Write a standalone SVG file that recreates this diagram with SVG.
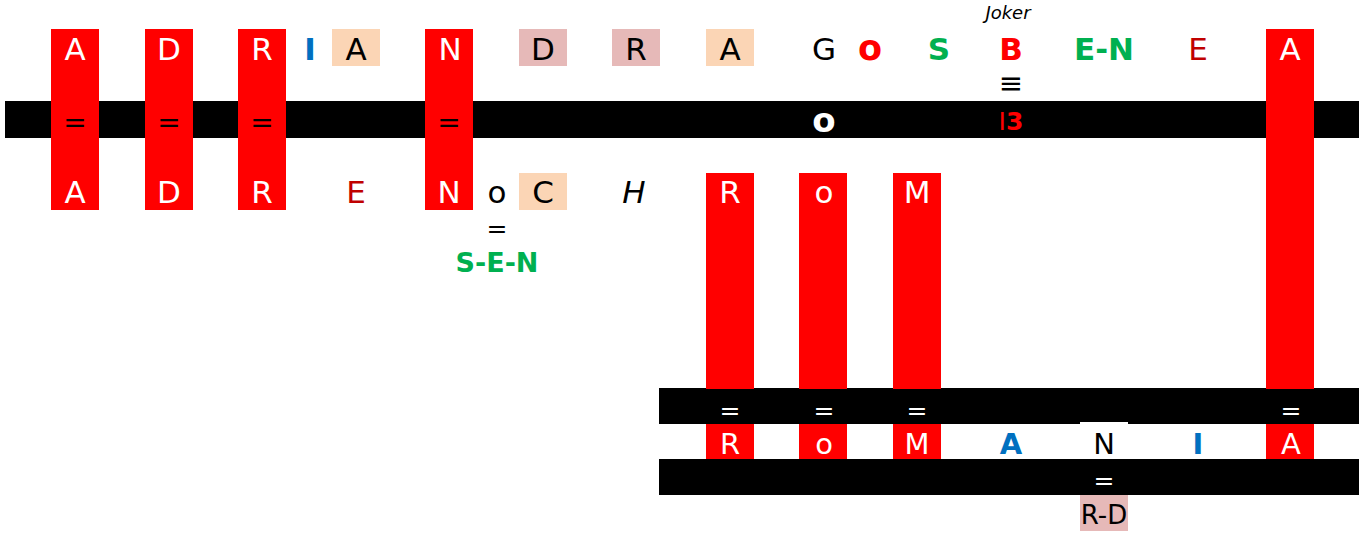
<svg xmlns="http://www.w3.org/2000/svg" width="1359" height="539" viewBox="0 0 1359 539">
<style>
text{font-family:"DejaVu Sans","Verdana",sans-serif;text-anchor:middle}
.big{font-size:31px}
.bot{font-size:29px}
.w{fill:#ffffff}
.k{fill:#000000}
.b{font-weight:bold}
.red{fill:#ff0000}
.dred{fill:#c00000}
.blue{fill:#0070c0}
.green{fill:#00b050}
.eq{font-size:28px}
.eqs{font-size:25px}
.peach{fill:#fbd5b5}
.pink{fill:#e6b9b8}
.bar{fill:#000000}
</style>
<rect width="1359" height="539" fill="#ffffff"/>
<g id="bars">
<rect class="bar" x="5" y="101" width="1354" height="37"/>
<rect class="bar" x="659" y="388" width="700" height="36"/>
<rect class="bar" x="659" y="459" width="700" height="36"/>
</g>
<g id="columns">
<rect class="red" x="51" y="29" width="48" height="181"/>
<rect class="red" x="145" y="29" width="48" height="181"/>
<rect class="red" x="238" y="29" width="48" height="181"/>
<rect class="red" x="425" y="29" width="48" height="181"/>
<rect class="red" x="1266" y="29" width="48" height="360"/>
<rect class="red" x="706" y="173" width="48" height="216"/>
<rect class="red" x="799" y="173" width="48" height="216"/>
<rect class="red" x="893" y="173" width="48" height="216"/>
<rect class="red" x="706" y="424" width="48" height="35"/>
<rect class="red" x="799" y="424" width="48" height="35"/>
<rect class="red" x="893" y="424" width="48" height="35"/>
<rect class="red" x="1266" y="424" width="48" height="35"/>
<rect fill="#ffffff" x="1080" y="422" width="48" height="37"/>
</g>
<g id="top-row">
<text class="big w" x="75" y="60">A</text>
<text class="big w" x="169" y="60">D</text>
<text class="big w" x="262" y="60">R</text>
<text class="big blue b" x="310" y="60">I</text>
<g id="top-A2"><rect class="peach" x="332" y="29" width="48" height="37"/><text class="big k" x="356" y="60">A</text></g>
<text class="big w" x="450" y="60">N</text>
<g id="top-D"><rect class="pink" x="519" y="29" width="48" height="37"/><text class="big k" x="543" y="60">D</text></g>
<g id="top-R"><rect class="pink" x="612" y="29" width="48" height="37"/><text class="big k" x="636" y="60">R</text></g>
<g id="top-A3"><rect class="peach" x="706" y="29" width="48" height="37"/><text class="big k" x="730" y="60">A</text></g>
<text class="big k" x="824" y="60">G</text>
<text class="b red" x="870" y="60" font-size="35">o</text>
<text class="big b green" x="939" y="60">S</text>
<text class="big b red" x="1011" y="60">B</text>
<text class="big b green" x="1104" y="60">E-N</text>
<text class="big dred" x="1198" y="60">E</text>
<text class="big w" x="1290" y="60">A</text>
<text x="1008" y="19" font-size="18" font-style="italic" class="k">Joker</text>
<text x="1011" y="93" font-size="29" class="k">≡</text>
</g>
<g id="middle-bar-labels">
<text class="eq k" x="75" y="132">=</text>
<text class="eq k" x="169" y="132">=</text>
<text class="eq k" x="262" y="132">=</text>
<text class="eq k" x="449" y="132">=</text>
<text class="b w" x="824" y="132" font-size="34">o</text>
<text x="1011" y="130" font-size="25"><tspan class="red">I</tspan><tspan class="red b">3</tspan></text>
</g>
<g id="lower-row">
<text class="big w" x="75" y="203">A</text>
<text class="big w" x="169" y="203">D</text>
<text class="big w" x="262" y="203">R</text>
<text class="big dred" x="356" y="203">E</text>
<text class="big w" x="449" y="203">N</text>
<text class="big k" x="497" y="203">o</text>
<g id="low-C"><rect class="peach" x="519" y="173" width="48" height="37"/><text class="big k" x="543" y="203">C</text></g>
<text class="big k" x="634" y="203" font-style="italic">H</text>
<text class="big w" x="730" y="203">R</text>
<text class="big w" x="824" y="203">o</text>
<text class="big w" x="917" y="203">M</text>
<text class="eqs k" x="497" y="237">=</text>
<text class="b green" x="497" y="272" font-size="27">S-E-N</text>
</g>
<g id="bottom">
<text class="eqs w" x="730" y="419">=</text>
<text class="eqs w" x="824" y="419">=</text>
<text class="eqs w" x="917" y="419">=</text>
<text class="eqs w" x="1291" y="419">=</text>
<text class="bot w" x="730" y="454">R</text>
<text class="bot w" x="824" y="454">o</text>
<text class="bot w" x="917" y="454">M</text>
<text class="bot b blue" x="1011" y="454">A</text>
<text class="bot k" x="1104" y="454">N</text>
<text class="bot b blue" x="1198" y="454">I</text>
<text class="bot w" x="1291" y="454">A</text>
<text class="eqs w" x="1104" y="489">=</text>
<g id="RD"><rect class="pink" x="1080" y="495" width="48" height="36"/><text x="1104" y="524" font-size="26" class="k">R-D</text></g>
</g>
</svg>
